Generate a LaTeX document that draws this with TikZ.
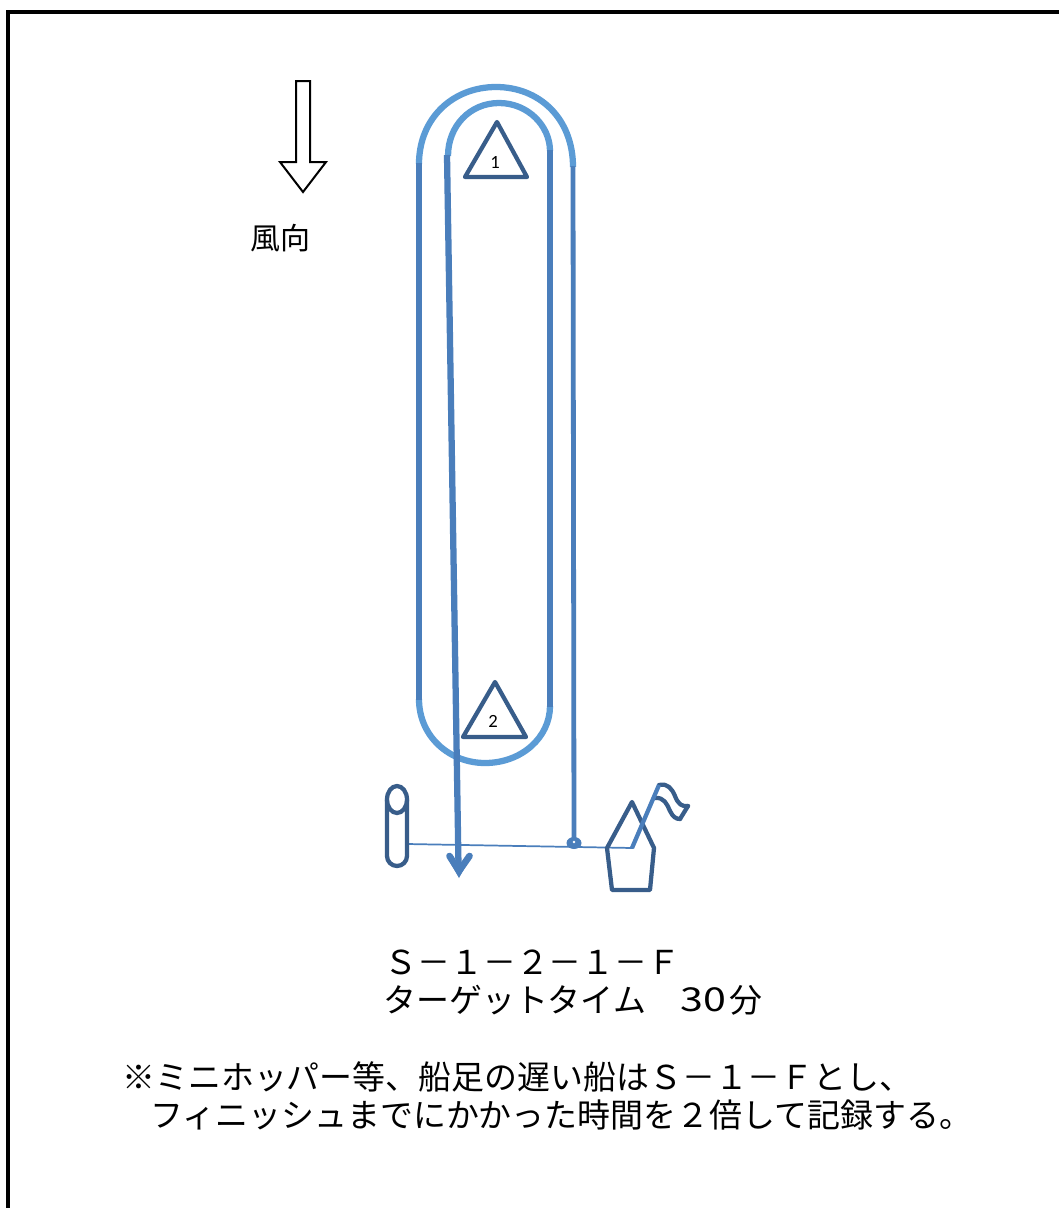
\documentclass[tikz,border=0pt]{standalone}
\usepackage{fontspec}
\setmainfont{Noto Sans CJK JP}
\newfontfamily\labfont{Carlito}
\definecolor{arcblue}{HTML}{5B9BD5}
\definecolor{runblue}{HTML}{4A7EBB}
\definecolor{markblue}{HTML}{385D8A}
\tikzset{
  arcline/.style={draw=arcblue,line width=4.7pt},
  runline/.style={draw=runblue,line width=4.5pt},
  markline/.style={draw=markblue,line width=3.2pt,line join=round,line cap=round},
  bigtext/.style={inner sep=0pt,anchor=west,font=\fontsize{24.7pt}{28pt}\selectfont},
  marklabel/.style={inner sep=0pt,font=\labfont\fontsize{14pt}{16pt}\selectfont}
}
\begin{document}
\begin{tikzpicture}[x=0.75pt,y=-0.75pt]
\useasboundingbox (0,0) rectangle (1058,1208);
% frame
\draw[black,line width=3pt] (7.5,1210) -- (7.5,11.5) -- (1060,11.5);
% wind arrow
\draw[black,line width=1.5pt,line join=miter,fill=white] (296,81) -- (310,81) -- (310,162) -- (326,162) -- (303,192) -- (280,162) -- (296,162) -- cycle;
\node[inner sep=0pt,font=\fontsize{22.5pt}{26pt}\selectfont] (wind) at (280,238) {風向};
% course arcs
\draw[arcline] (419,164) .. controls (419,118) and (453,87) .. (496,87) .. controls (539,87) and (573,118) .. (573,167);
\draw[arcline] (448,156) .. controls (448,126) and (470,103) .. (499,103) .. controls (528,103) and (550,126) .. (550,151);
\draw[arcline] (419,699) .. controls (419,737) and (450,763) .. (485,763) .. controls (522,763) and (550,737) .. (550,706);
% course legs
\draw[runline] (419,163) -- (419,700);
\draw[runline] (550,150) -- (550,707);
\draw[runline,line width=3.6pt] (573,166) -- (574,843);
% marks
\draw[markline] (497,122) -- (527,177) -- (465,177) -- cycle;
\node[marklabel] (m1) at (495,162) {1};
\draw[markline] (495,682) -- (526,737) -- (463,737) -- cycle;
\node[marklabel] (m2) at (493,721) {2};
% start line
\draw[runline,line width=1.3pt] (407,844) -- (633,848);
\fill[runblue] (574,843) ellipse [x radius=7.5,y radius=6];
\fill[white] (574,842) circle (1.4);
% pin
\draw[markline] (387,800) -- (387,856) arc[start angle=180,end angle=0,x radius=10,y radius=10] -- (407,800);
\draw[markline] (397,799.5) ellipse [x radius=10,y radius=13.5];
% committee boat
\draw[markline] (607,848) -- (632,802) -- (654,848) -- (650,890) -- (612,890) -- cycle;
\draw[markline] (659,785) .. controls (668,783) and (672,789) .. (675,796) .. controls (678,804) and (682,807) .. (688,806);
\draw[markline] (655,798) .. controls (664,797) and (667,804) .. (670,811) .. controls (673,817) and (676,819) .. (680,819);
\draw[markline] (688,806) -- (680,819);
\draw[runline,line width=3.2pt] (632,848) -- (659,785);
% run to finish
\draw[runline,line width=4.7pt] (447,155) -- (458.5,866);
\draw[runblue,line width=5pt,line cap=round,line join=miter] (449.5,856) -- (459,871) -- (469.5,856);
\fill[runblue] (450,862) -- (459,878) -- (468,862) -- (459,866) -- cycle;
% text
\node[bigtext] (t1) at (384,962) {Ｓ－１－２－１－Ｆ};
\node[bigtext] (t2) at (383,1000) {ターゲットタイム};
\node[bigtext] (t3) at (680,1000) {\addfontfeature{FakeStretch=1.25}30};
\node[bigtext] (t4) at (729,1000) {分};
\node[bigtext] (t5) at (122,1077) {※ミニホッパー等、船足の遅い船はＳ－１－Ｆとし、};
\node[bigtext] (t6) at (150,1115) {フィニッシュまでにかかった時間を２倍して記録する。};
\end{tikzpicture}
\end{document}
